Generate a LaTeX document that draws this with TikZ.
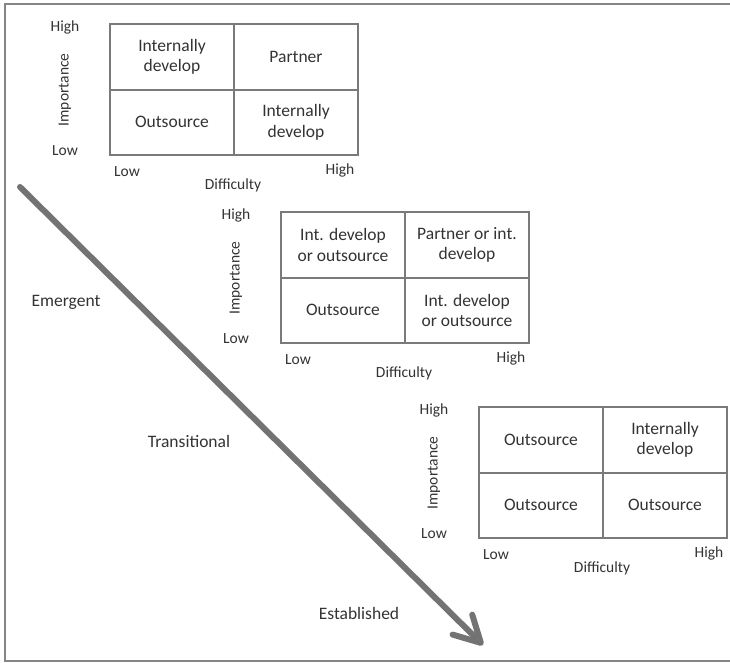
\documentclass[tikz,border=0pt]{standalone}
\usepackage{fontspec}
\setmainfont{Carlito}
\usetikzlibrary{arrows.meta}

\definecolor{txtgrey}{HTML}{333333}
\definecolor{linegrey}{HTML}{7A7A7A}
\definecolor{arrowgrey}{HTML}{737373}
\definecolor{framegrey}{HTML}{858585}

\tikzset{
  cell/.style={draw=linegrey, line width=2, minimum width=124pt, minimum height=65.5pt,
    inner sep=0pt, align=center, text=txtgrey, font=\fontsize{17.5}{20.5}\selectfont},
  axislabel/.style={text=txtgrey, inner sep=0pt, font=\fontsize{15.5}{18}\selectfont},
  stagelabel/.style={text=txtgrey, inner sep=0pt, font=\fontsize{17.5}{20.5}\selectfont},
  trend/.style={draw=arrowgrey, line width=6, line cap=round,
    -{Straight Barb[length=26pt, width=28pt, round]}}
}

% One importance/difficulty grid: #1 name prefix, #2 top-left corner,
% #3 high/low, #4 high/high, #5 low/low, #6 low/high
\newcommand\decisiongrid[6]{%
  \begin{scope}[shift={#2}]
    \node[cell] (#1hl) at (62,32.75)  {#3};
    \node[cell] (#1hh) at (186,32.75) {#4};
    \node[cell] (#1ll) at (62,98.25)  {#5};
    \node[cell] (#1lh) at (186,98.25) {#6};
    \node[axislabel] (#1yhigh) at (-45,3)   {High};
    \node[axislabel] (#1ylow)  at (-45,127) {Low};
    \node[axislabel, rotate=90] (#1ytitle) at (-45,66) {Importance};
    \node[axislabel] (#1xlow)  at (17,148)  {Low};
    \node[axislabel] (#1xhigh) at (230,146) {High};
    \node[axislabel] (#1xtitle) at (123,161) {Difficulty};
  \end{scope}}

\begin{document}
\begin{tikzpicture}[x=1pt, y=-1pt]
  \useasboundingbox (0,0) rectangle (730,662);
  \fill[white] (0,0) rectangle (730,662);

  % open frame: top, left and bottom edges
  \draw[framegrey, line width=2.5] (730,4) -- (5,4) -- (5,661) -- (730,661);

  \decisiongrid{a}{(110,24)}{Internally\\develop}{Partner}{Outsource}{Internally\\develop}
  \decisiongrid{b}{(281,212)}{Int. develop\\or outsource}{Partner or int.\\develop}{Outsource}{Int. develop\\or outsource}
  \decisiongrid{c}{(479,407)}{Outsource}{Internally\\develop}{Outsource}{Outsource}

  % maturity stages
  \node[stagelabel] (emergent) at (66,302) {Emergent};
  \node[stagelabel] (transitional) at (189,441) {Transitional};
  \node[stagelabel] (established) at (359,613) {Established};

  % maturity trend
  \coordinate (trendstart) at (20,187);
  \coordinate (trendend) at (483,645);
  \draw[trend] (trendstart) -- (trendend);
\end{tikzpicture}
\end{document}
